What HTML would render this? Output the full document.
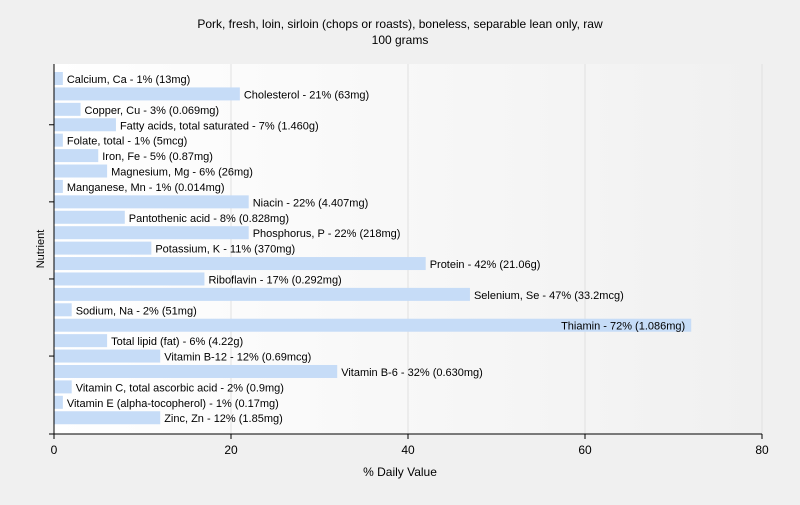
<!DOCTYPE html>
<html><head><meta charset="utf-8"><style>
body{margin:0;background:#f0f0f0;font-family:"Liberation Sans",sans-serif;}
svg text{font-family:"Liberation Sans",sans-serif;fill:#000;}
</style></head><body>
<svg width="800" height="500" xmlns="http://www.w3.org/2000/svg">
<defs><linearGradient id="bg" x1="0" x2="1" y1="0" y2="0"><stop offset="0" stop-color="#ffffff"/><stop offset="1" stop-color="#f0f0f0"/></linearGradient></defs>
<rect width="800" height="500" fill="#f0f0f0"/>
<text x="400" y="28" text-anchor="middle" font-size="12">Pork, fresh, loin, sirloin (chops or roasts), boneless, separable lean only, raw</text>
<text x="400" y="44" text-anchor="middle" font-size="12">100 grams</text>
<rect x="54" y="64" width="709" height="370" fill="url(#bg)"/>
<g id="grid"></g><g id="bars"></g><g id="axes"></g>
<text x="400" y="476" text-anchor="middle" font-size="12">% Daily Value</text>
<text transform="translate(44,249) rotate(-90)" text-anchor="middle" font-size="11">Nutrient</text>
</svg>
<script>
const categories=["Calcium, Ca","Cholesterol","Copper, Cu","Fatty acids, total saturated","Folate, total","Iron, Fe","Magnesium, Mg","Manganese, Mn","Niacin","Pantothenic acid","Phosphorus, P","Potassium, K","Protein","Riboflavin","Selenium, Se","Sodium, Na","Thiamin","Total lipid (fat)","Vitamin B-12","Vitamin B-6","Vitamin C, total ascorbic acid","Vitamin E (alpha-tocopherol)","Zinc, Zn"];
const values=[1,21,3,7,1,5,6,1,22,8,22,11,42,17,47,2,72,6,12,32,2,1,12];
const amounts=["13mg","63mg","0.069mg","1.460g","5mcg","0.87mg","26mg","0.014mg","4.407mg","0.828mg","218mg","370mg","21.06g","0.292mg","33.2mcg","51mg","1.086mg","4.22g","0.69mcg","0.630mg","0.9mg","0.17mg","1.85mg"];
const xTicks=[0,20,40,60,80];
const NS="http://www.w3.org/2000/svg";
const x0=54,x1=762,yTop=64,yBot=434,xMax=80;
const X=v=>x0+(x1-x0)*v/xMax;
const rowH=15.42;
const Y=i=>yTop+8+i*rowH;
function mk(t,a,p){const e=document.createElementNS(NS,t);for(const k in a)e.setAttribute(k,a[k]);p.appendChild(e);return e;}
const grid=document.getElementById('grid'),bars=document.getElementById('bars'),axes=document.getElementById('axes');
xTicks.forEach(t=>{if(t>0){const g=mk('line',{x1:X(t),x2:X(t),y1:yTop,y2:yBot,stroke:'#e0e0e0'},grid);

}
const tk=mk('line',{x1:X(t),x2:X(t),y1:yBot,y2:yBot+5,stroke:'#000'},axes);


const tl=mk('text',{x:X(t),y:yBot+20,'text-anchor':'middle','font-size':'12'},axes);tl.textContent=t;

});
categories.forEach((c,i)=>{const y=Y(i),w=X(values[i])-x0;
const r=mk('rect',{x:x0,y:y,width:w,height:13,fill:'#c6dcf7'},bars);


const label=c+' - '+values[i]+'% ('+amounts[i]+')';
const inside=values[i]>60;
const tx=mk('text',{x:inside?X(values[i])-6:X(values[i])+4,y:y+11,'font-size':'11','text-anchor':inside?'end':'start'},bars);tx.textContent=label;


if(i%5===3){const t=mk('line',{x1:x0-5,x2:x0,y1:y+6.5,y2:y+6.5,stroke:'#000'},axes);

}});
const ya=mk('line',{x1:x0,x2:x0,y1:yTop,y2:yBot,stroke:'#000'},axes);


const xa=mk('line',{x1:x0-5,x2:x1,y1:yBot,y2:yBot,stroke:'#000'},axes);


</script>
</body></html>
